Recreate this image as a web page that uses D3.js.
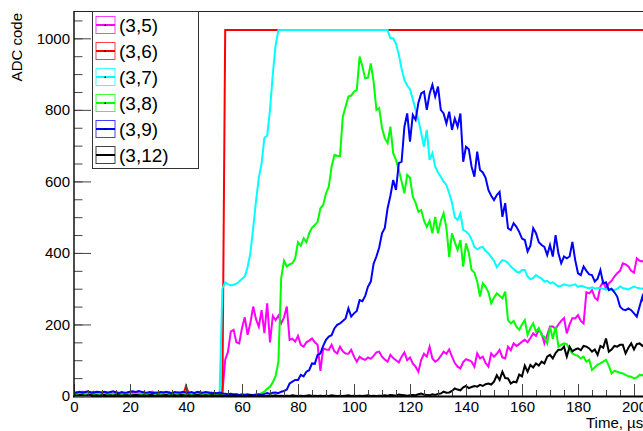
<!DOCTYPE html>
<html><head><meta charset="utf-8">
<script src="https://cdn.jsdelivr.net/npm/d3@7"></script>
<style>body{margin:0;background:#fff}svg{display:block;font-family:"Liberation Sans",Arial,sans-serif}</style>
</head><body><svg id="c" width="643" height="431"></svg>
<script>
// sampling grid, 1 µs
const time = d3.range(0, 205);
const seriesNames = ["(3,5)", "(3,6)", "(3,7)", "(3,8)", "(3,9)", "(3,12)"];
const xTicks = [0, 20, 40, 60, 80, 100, 120, 140, 160, 180, 200];
const yTicks = [0, 200, 400, 600, 800, 1000];

const s3_5 = [8,10,6,12,9,7,11,8,10,6, 9,7,10,8,6,11,9,7,8,10, 7,9,11,8,6,10,8,9,12,7, 9,8,10,7,11,8,6,9,10,8, 7,10,8,9,6,11,8,7,9,10,
  8,6,9,10,101,124,180,185,150,147, 190,220,171,205,250,215,194,240,176,259, 150,224,212,225,203,220,250,157,160,152,
  168,143,138,150,155,161,150,143,70,133, 130,129,143,125,119,138,125,119,118,129, 110,96,110,104,101,108,104,112,122,124,
  110,102,96,115,106,100,94,110,122,100, 108,91,82,68,101,118,110,138,105,96, 101,112,124,118,130,110,92,82,77,95,
  103,100,96,82,119,105,110,92,82,119, 110,118,129,108,105,138,128,147,140,145, 152,157,150,162,175,168,185,175,147,170,
  194,194,188,200,210,218,175,200,218,217, 226,210,203,290,287,296,275,268,306,320, 300,315,322,334,343,350,371,368,362,350,
  345,385,378,376,380];

const s3_6 = [4,6,5,3,7,5,6,12,5,4, 6,3,5,10,4,6,5,3,4,6, 5,7,4,5,6,3,5,4,7,5, 4,6,3,5,7,4,6,5,4,3, 28,6,5,4,7,5,3,6,4,5,
  4,6,5,4,1023,1023,1023,1023,1023,1023,
  1023,1023,1023,1023,1023,1023,1023,1023,1023,1023, 1023,1023,1023,1023,1023,1023,1023,1023,1023,1023,
  1023,1023,1023,1023,1023,1023,1023,1023,1023,1023, 1023,1023,1023,1023,1023,1023,1023,1023,1023,1023,
  1023,1023,1023,1023,1023,1023,1023,1023,1023,1023, 1023,1023,1023,1023,1023,1023,1023,1023,1023,1023,
  1023,1023,1023,1023,1023,1023,1023,1023,1023,1023, 1023,1023,1023,1023,1023,1023,1023,1023,1023,1023,
  1023,1023,1023,1023,1023,1023,1023,1023,1023,1023, 1023,1023,1023,1023,1023,1023,1023,1023,1023,1023,
  1023,1023,1023,1023,1023,1023,1023,1023,1023,1023, 1023,1023,1023,1023,1023,1023,1023,1023,1023,1023,
  1023,1023,1023,1023,1023,1023,1023,1023,1023,1023, 1023,1023,1023,1023,1023,1023,1023,1023,1023,1023,
  1023,1023,1023,1023,1023];

const s3_7 = [5,3,6,4,5,7,3,5,4,6, 5,4,3,6,5,4,7,5,3,4, 6,5,4,5,3,6,4,5,5,4, 3,5,6,4,5,3,4,6,5,4, 5,4,6,3,5,4,5,6,4,3,
  5,4,5,300,318,312,310,311,314,320, 328,334,360,400,470,545,610,650,722,728, 800,900,980,1023,1023,1023,1023,1023,1023,1023,
  1023,1023,1023,1023,1023,1023,1023,1023,1023,1023, 1023,1023,1023,1023,1023,1023,1023,1023,1023,1023,
  1023,1023,1023,1023,1023,1023,1023,1023,1023,1023, 1023,1023,1023,1000,1000,985,955,915,884,868,
  858,830,800,772,735,697,744,660,679,641, 625,613,600,590,567,540,500,492,510,464, 460,452,438,417,410,415,417,405,399,388,
  378,360,371,380,378,372,362,355,348,345, 352,352,334,326,330,338,332,328,320,322, 315,318,312,306,308,312,310,308,310,312,
  305,308,306,303,301,304,300,302,301,300, 298,300,296,296,300,306,302,300,298,302, 306,303,301,300,302];

const s3_8 = [5,4,6,3,5,8,4,6,5,3, 6,4,5,7,3,5,6,4,5,6, 4,5,3,6,5,4,7,5,6,8, 5,4,6,5,9,4,6,5,3,5, 6,4,5,7,4,6,3,5,4,6,
  5,4,6,3,5,4,6,5,4,3, 5,4,3,4,2,0,3,8,12,20, 26,38,56,95,330,378,362,368,371,385,
  430,420,441,430,455,470,478,487,525,534, 567,585,641,674,672,671,781,809,837,840, 851,856,949,921,888,890,930,879,800,805,
  749,721,707,753,679,660,632,600,567,618, 610,557,540,515,520,490,473,490,455,501, 455,490,511,470,389,455,430,408,436,362,
  427,400,352,345,320,278,315,305,290,259, 275,287,280,273,292,212,203,210,194,185, 200,212,171,190,203,180,190,170,166,147,
  194,160,194,138,143,147,145,130,119,115, 112,105,110,96,101,73,80,88,91,96, 101,85,63,70,68,65,63,59,55,54, 49,52,59,58,60];

const s3_9 = [8,10,12,9,11,13,10,9,12,11, 10,12,9,11,13,10,8,11,9,10, 12,13,11,14,12,10,9,11,8,10, 9,11,10,12,9,8,11,10,9,12, 10,9,11,8,12,10,9,11,10,8,
  9,8,10,7,6,5,6,4,5,3, 4,3,5,2,3,4,5,3,6,8, 6,9,10,8,12,14,18,35,40,45,
  45,59,55,68,72,91,90,115,119,140, 157,166,170,189,199,203,210,217,245,222, 231,238,268,265,280,306,320,370,390,415,
  455,470,525,560,604,576,651,655,753,790, 711,786,772,820,846,851,800,845,870,837, 865,800,790,762,795,744,776,753,790,655,
  697,690,641,613,683,632,625,610,576,560, 548,562,571,501,539,469,464,483,473,459, 440,436,404,420,469,455,430,422,417,394,
  422,390,450,399,371,390,385,390,431,380, 343,338,362,350,340,338,320,328,352,315, 318,296,300,290,278,250,242,240,245,240,
  231,222,250,278,250];

const s3_12 = [2,1,3,2,1,2,3,1,2,1, 2,3,1,2,1,3,2,1,2,2, 1,2,3,2,1,2,1,3,2,1, 2,1,2,3,1,2,2,1,3,2, 1,2,1,2,3,2,1,2,1,2,
  2,1,2,1,0,1,0,2,1,0, 1,0,1,2,0,1,0,1,0,1, 0,1,2,0,1,0,1,0,2,1, 0,1,0,1,2,0,1,0,1,0, 1,0,2,1,0,1,0,1,2,0,
  1,0,1,0,1,2,0,1,0,1, 1,2,1,3,2,1,4,3,2,1, 2,3,2,5,7,4,3,2,5,3, 6,7,12,9,10,14,21,18,16,24, 28,22,25,28,26,31,28,33,35,32,
  40,58,45,68,50,49,35,40,38,60, 55,85,68,87,80,91,85,96,91,110, 115,105,120,129,129,138,110,138,125,130,
  133,128,140,138,133,124,130,115,140,135, 161,124,130,140,138,143,143,119,135,147, 130,145,147,140,145];

const seriesValues = [s3_5, s3_6, s3_7, s3_8, s3_9, s3_12];
const colors = ["#ff00ff", "#ff0000", "#00ffff", "#00ff00", "#0000ff", "#000000"];

const svg = d3.select("#c");
const x = d3.scaleLinear().domain([0, 210]).range([74, 662]);
const y = d3.scaleLinear().domain([0, 1075]).range([396, 11.5]);
const W = 643;

svg.append("defs").append("clipPath").attr("id", "clip")
  .append("rect").attr("x", 74).attr("y", 11).attr("width", W - 74).attr("height", 386);

// lines
const line = d3.line().x((d, i) => x(time[i])).y(d => y(d));
const gl = svg.append("g").attr("clip-path", "url(#clip)");
seriesValues.forEach((vals, k) => {
  gl.append("path").attr("d", line(vals)).attr("fill", "none")
    .attr("stroke", colors[k]).attr("stroke-width", 2).attr("stroke-linejoin", "miter");
});

// frame
svg.append("line").attr("x1", 74).attr("x2", W).attr("y1", 11.5).attr("y2", 11.5).attr("stroke", "#222").attr("stroke-width", 1);

// x axis
const xMinor = d3.range(0, 211, 5);
const gxm = svg.append("g").attr("transform", "translate(0,396)")
  .call(d3.axisBottom(x).tickValues(xMinor).tickSize(-6).tickFormat(""));
const gx = svg.append("g").attr("transform", "translate(0,396)")
  .call(d3.axisBottom(x).tickValues(xTicks).tickSize(-12).tickPadding(5).tickFormat(d3.format("d")));
[gxm, gx].forEach(g => { g.select(".domain").remove(); g.selectAll("line").attr("stroke", "#444").attr("stroke-width", 1); });
gx.selectAll("text").attr("font-size", 15).attr("fill", "#000").attr("font-family", "Liberation Sans, Arial, sans-serif");
svg.append("line").attr("x1", 73).attr("x2", W).attr("y1", 396.5).attr("y2", 396.5).attr("stroke", "#000").attr("stroke-width", 2);

// y axis
const yMinor = d3.range(0, 1076, 50);
const gym = svg.append("g").attr("transform", "translate(74,0)")
  .call(d3.axisLeft(y).tickValues(yMinor).tickSize(-8.5).tickFormat(""));
const gy = svg.append("g").attr("transform", "translate(74,0)")
  .call(d3.axisLeft(y).tickValues(yTicks).tickSize(-17).tickPadding(4).tickFormat(d3.format("d")));
[gym, gy].forEach(g => { g.select(".domain").remove(); g.selectAll("line").attr("stroke", "#444").attr("stroke-width", 1); });
gy.selectAll("text").attr("font-size", 15).attr("fill", "#000").attr("font-family", "Liberation Sans, Arial, sans-serif");
svg.append("line").attr("x1", 74).attr("x2", 74).attr("y1", 11).attr("y2", 397).attr("stroke", "#111").attr("stroke-width", 1.5);

// axis titles
svg.append("text").attr("x", 586).attr("y", 428).attr("font-size", 15).text("Time, µs");
svg.append("text").attr("transform", "translate(22,13) rotate(-90)").attr("text-anchor", "end")
  .attr("font-size", 15).text("ADC code");

// legend
const lg = svg.append("g");
lg.append("rect").attr("x", 92.5).attr("y", 11.5).attr("width", 106).attr("height", 157)
  .attr("fill", "#fff").attr("stroke", "#333").attr("stroke-width", 1);
seriesNames.forEach((name, k) => {
  const cy = 25 + k * 26;
  lg.append("rect").attr("x", 96).attr("y", cy - 8.5).attr("width", 19).attr("height", 17)
    .attr("fill", "none").attr("stroke", colors[k]).attr("stroke-opacity", 0.75).attr("stroke-width", 1);
  lg.append("line").attr("x1", 96).attr("x2", 115).attr("y1", cy).attr("y2", cy)
    .attr("stroke", colors[k]).attr("stroke-width", 2);
  lg.append("rect").attr("x", 104.5).attr("y", cy - 0.5).attr("width", 1.5).attr("height", 1.5).attr("fill", "#000");
  lg.append("text").attr("x", 119).attr("y", cy + 7).attr("font-size", 19).text(name);
});
</script></body></html>
